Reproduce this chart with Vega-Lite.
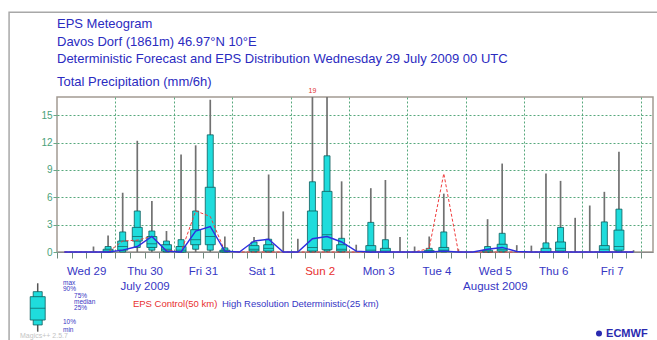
{
  "$schema": "https://vega.github.io/schema/vega-lite/v6.json",
  "width": 596,
  "height": 155,
  "autosize": {"type": "none"},
  "padding": {"left": 57, "top": 97, "right": 4, "bottom": 88},
  "background": "white",
  "config": {"view": {"stroke": "#a39a92", "strokeWidth": 1.5}, "font": "Liberation Sans"},
  "title": {
    "text": ["EPS Meteogram", "Davos Dorf (1861m) 46.97°N 10°E", "Deterministic Forecast and EPS Distribution Wednesday 29 July 2009 00 UTC"],
    "subtitle": "Total Precipitation (mm/6h)",
    "anchor": "start",
    "frame": "group",
    "font": "Liberation Sans",
    "fontSize": 13,
    "fontWeight": "normal",
    "color": "#2b2bbf",
    "lineHeight": 17.5,
    "subtitleFont": "Liberation Sans",
    "subtitleFontSize": 13,
    "subtitleColor": "#2b2bbf",
    "subtitlePadding": 10,
    "offset": -78
  },
  "resolve": {"axis": {"x": "independent"}},
  "data": {"values": [
    {"h": 3, "min": 0, "p10": 0, "p25": 0, "med": 0, "p75": 0, "p90": 0, "max": 0, "ctrl": 0, "hres": 0},
    {"h": 9, "min": 0, "p10": 0, "p25": 0, "med": 0, "p75": 0, "p90": 0, "max": 0, "ctrl": 0, "hres": 0},
    {"h": 15, "min": 0, "p10": 0, "p25": 0, "med": 0, "p75": 0, "p90": 0, "max": 0.6, "ctrl": 0, "hres": 0},
    {"h": 21, "min": 0, "p10": 0, "p25": 0, "med": 0.1, "p75": 0.3, "p90": 0.6, "max": 1.8, "ctrl": 0, "hres": 0},
    {"h": 27, "min": 0, "p10": 0, "p25": 0.2, "med": 0.6, "p75": 1.2, "p90": 2.2, "max": 6.5, "ctrl": 1.2, "hres": 0.2},
    {"h": 33, "min": 0, "p10": 0.5, "p25": 1.2, "med": 1.7, "p75": 2.7, "p90": 4.5, "max": 12.2, "ctrl": 1.3, "hres": 0.6},
    {"h": 39, "min": 0, "p10": 0.2, "p25": 0.5, "med": 0.9, "p75": 1.7, "p90": 2.3, "max": 5.6, "ctrl": 1.7, "hres": 1.7},
    {"h": 45, "min": 0, "p10": 0, "p25": 0.1, "med": 0.3, "p75": 0.8, "p90": 1.2, "max": 2.3, "ctrl": 0.2, "hres": 0.1},
    {"h": 51, "min": 0, "p10": 0, "p25": 0, "med": 0.2, "p75": 0.6, "p90": 1.35, "max": 10.7, "ctrl": 0, "hres": 0},
    {"h": 57, "min": 0, "p10": 0.3, "p25": 0.8, "med": 1.35, "p75": 2.45, "p90": 4.5, "max": 11.7, "ctrl": 4.5, "hres": 2.3},
    {"h": 63, "min": 0, "p10": 0.2, "p25": 0.8, "med": 1.7, "p75": 7.1, "p90": 12.85, "max": 16.7, "ctrl": 3.9, "hres": 2.8},
    {"h": 69, "min": 0, "p10": 0, "p25": 0, "med": 0.1, "p75": 0.2, "p90": 0.45, "max": 1.7, "ctrl": 0.1, "hres": 0.1},
    {"h": 75, "min": 0, "p10": 0, "p25": 0, "med": 0, "p75": 0, "p90": 0, "max": 0, "ctrl": 0, "hres": 0},
    {"h": 81, "min": 0, "p10": 0, "p25": 0.1, "med": 0.3, "p75": 0.7, "p90": 1.1, "max": 1.65, "ctrl": 0, "hres": 1.2},
    {"h": 87, "min": 0, "p10": 0, "p25": 0.1, "med": 0.4, "p75": 0.8, "p90": 1.4, "max": 8.5, "ctrl": 0, "hres": 1.4},
    {"h": 93, "min": 0, "p10": 0, "p25": 0, "med": 0, "p75": 0, "p90": 0, "max": 4.45, "ctrl": 0, "hres": 0},
    {"h": 99, "min": 0, "p10": 0, "p25": 0, "med": 0, "p75": 0, "p90": 0, "max": 1.45, "ctrl": 0, "hres": 0},
    {"h": 105, "min": 0, "p10": 0, "p25": 0.1, "med": 0.5, "p75": 4.5, "p90": 7.7, "max": 19, "ctrl": 0, "hres": 1.45},
    {"h": 111, "min": 0, "p10": 0.1, "p25": 0.25, "med": 1.9, "p75": 6.65, "p90": 10.55, "max": 17, "ctrl": 0, "hres": 1.7},
    {"h": 117, "min": 0, "p10": 0, "p25": 0.1, "med": 0.3, "p75": 0.8, "p90": 1.5, "max": 7.75, "ctrl": 0, "hres": 1.1},
    {"h": 123, "min": 0, "p10": 0, "p25": 0, "med": 0, "p75": 0, "p90": 0, "max": 0.8, "ctrl": 0, "hres": 0.1},
    {"h": 129, "min": 0, "p10": 0, "p25": 0, "med": 0.2, "p75": 0.7, "p90": 3.25, "max": 7.0, "ctrl": 0, "hres": 0},
    {"h": 135, "min": 0, "p10": 0, "p25": 0, "med": 0.1, "p75": 0.4, "p90": 1.35, "max": 7.9, "ctrl": 0, "hres": 0},
    {"h": 141, "min": 0, "p10": 0, "p25": 0, "med": 0, "p75": 0, "p90": 0, "max": 1.65, "ctrl": 0, "hres": 0},
    {"h": 147, "min": 0, "p10": 0, "p25": 0, "med": 0, "p75": 0, "p90": 0, "max": 0.6, "ctrl": 0, "hres": 0},
    {"h": 153, "min": 0, "p10": 0, "p25": 0, "med": 0, "p75": 0.15, "p90": 0.4, "max": 1.7, "ctrl": 0.4, "hres": 0},
    {"h": 159, "min": 0, "p10": 0, "p25": 0.1, "med": 0.2, "p75": 0.5, "p90": 2.2, "max": 6.4, "ctrl": 8.6, "hres": 0.1},
    {"h": 165, "min": 0, "p10": 0, "p25": 0, "med": 0, "p75": 0, "p90": 0, "max": 0.3, "ctrl": 0, "hres": 0},
    {"h": 171, "min": 0, "p10": 0, "p25": 0, "med": 0, "p75": 0, "p90": 0, "max": 0, "ctrl": 0, "hres": 0},
    {"h": 177, "min": 0, "p10": 0, "p25": 0, "med": 0, "p75": 0.2, "p90": 0.6, "max": 3.6, "ctrl": 0, "hres": 0.3},
    {"h": 183, "min": 0, "p10": 0, "p25": 0.1, "med": 0.3, "p75": 0.85, "p90": 2.05, "max": 9.7, "ctrl": 0, "hres": 0.5},
    {"h": 189, "min": 0, "p10": 0, "p25": 0, "med": 0, "p75": 0, "p90": 0, "max": 0.75, "ctrl": 0, "hres": 0.05},
    {"h": 195, "min": 0, "p10": 0, "p25": 0, "med": 0, "p75": 0, "p90": 0, "max": 0.7, "ctrl": 0, "hres": 0},
    {"h": 201, "min": 0, "p10": 0, "p25": 0, "med": 0, "p75": 0.4, "p90": 1.0, "max": 8.6, "ctrl": 0, "hres": 0},
    {"h": 207, "min": 0, "p10": 0, "p25": 0.1, "med": 0.4, "p75": 1.1, "p90": 2.7, "max": 7.8, "ctrl": 0.05, "hres": 0},
    {"h": 213, "min": 0, "p10": 0, "p25": 0, "med": 0, "p75": 0, "p90": 0, "max": 3.75, "ctrl": 0, "hres": 0},
    {"h": 219, "min": 0, "p10": 0, "p25": 0, "med": 0, "p75": 0, "p90": 0, "max": 5.1, "ctrl": 0, "hres": 0},
    {"h": 225, "min": 0, "p10": 0, "p25": 0, "med": 0.3, "p75": 0.7, "p90": 3.3, "max": 6.6, "ctrl": 0, "hres": 0},
    {"h": 231, "min": 0, "p10": 0, "p25": 0.2, "med": 0.6, "p75": 2.4, "p90": 4.7, "max": 11.0, "ctrl": 0, "hres": 0},
    {"h": 237, "min": 0, "p10": 0, "p25": 0, "med": 0, "p75": 0, "p90": 0, "max": 0.2, "ctrl": 0, "hres": 0}
  ]},
  "layer": [
    {
      "transform": [{"filter": "datum.max > 0"}],
      "mark": {"type": "rule", "color": "#717171", "strokeWidth": 1.7, "clip": true},
      "encoding": {
        "x": {"field": "h", "type": "quantitative", "scale": {"domain": [0, 245], "nice": false, "zero": false, "padding": 0},
          "axis": {
            "orient": "bottom",
            "values": [0, 6, 12, 18, 24, 30, 36, 42, 48, 54, 60, 66, 72, 78, 84, 90, 96, 102, 108, 114, 120, 126, 132, 138, 144, 150, 156, 162, 168, 174, 180, 186, 192, 198, 204, 210, 216, 222, 228, 234, 240],
            "tickCount": 80,
            "title": null,
            "grid": false,
            "ticks": true,
            "tickSize": 6,
            "tickColor": "#6f8a7c",
            "domain": true,
            "domainColor": "#8a8a8a",
            "labelExpr": "datum.value == 36 ? ['Thu 30', 'July 2009'] : datum.value == 180 ? ['Wed 5', 'August 2009'] : (datum.value % 24 == 12 ? ['Wed 29','Thu 30','Fri 31','Sat 1','Sun 2','Mon 3','Tue 4','Wed 5','Thu 6','Fri 7'][floor(datum.value / 24)] : '')",
            "labelColor": {"condition": {"test": "datum.value == 108", "value": "#e83030"}, "value": "#3636c4"},
            "labelFont": "Liberation Sans",
            "labelFontSize": 11.5,
            "labelPadding": 7,
            "labelLineHeight": 15.5,
            "labelOverlap": false,
            "labelFlush": false,
            "labelBound": false
          }
        },
        "y": {"field": "min", "type": "quantitative", "scale": {"domain": [0, 17], "nice": false, "zero": true, "padding": 0},
          "axis": {
            "values": [0, 3, 6, 9, 12, 15],
            "tickCount": 20,
            "title": null,
            "grid": true,
            "gridColor": "#56a87c",
            "gridDash": [2, 2],
            "tickSize": 4,
            "tickColor": "#6aa888",
            "labelColor": "#4aa27a",
            "labelFont": "Liberation Sans",
            "labelFontSize": 10,
            "labelPadding": 1,
            "labelOverlap": false,
            "domain": false
          }
        },
        "y2": {"field": "max"}
      }
    },
    {
      "transform": [{"filter": "datum.p90 > 0"}],
      "mark": {"type": "bar", "width": 6, "fill": "#1fdcdc", "stroke": "#0e5d5d", "strokeWidth": 0.8},
      "encoding": {
        "x": {"field": "h", "type": "quantitative",
          "axis": {
            "orient": "bottom",
            "values": [24, 48, 72, 96, 120, 144, 168, 192, 216, 240],
            "tickCount": 30,
            "title": null,
            "grid": true,
            "gridColor": "#56a87c",
            "gridDash": [2, 2],
            "labels": false,
            "ticks": false,
            "domain": false
          }
        },
        "y": {"field": "p10", "type": "quantitative"},
        "y2": {"field": "p90"}
      }
    },
    {
      "transform": [{"filter": "datum.p75 > 0"}],
      "mark": {"type": "bar", "width": 10, "fill": "#1fdcdc", "stroke": "#0e5d5d", "strokeWidth": 0.8},
      "encoding": {
        "x": {"field": "h", "type": "quantitative", "axis": null},
        "y": {"field": "p25", "type": "quantitative"},
        "y2": {"field": "p75"}
      }
    },
    {
      "transform": [{"filter": "datum.p75 > 0"}],
      "mark": {"type": "tick", "orient": "horizontal", "size": 10, "thickness": 1, "color": "#0e5d5d"},
      "encoding": {
        "x": {"field": "h", "type": "quantitative", "axis": null},
        "y": {"field": "med", "type": "quantitative"}
      }
    },
    {
      "mark": {"type": "line", "color": "#f03c3c", "strokeDash": [3, 2], "strokeWidth": 1},
      "encoding": {
        "x": {"field": "h", "type": "quantitative", "axis": null},
        "y": {"field": "ctrl", "type": "quantitative"}
      }
    },
    {
      "mark": {"type": "line", "color": "#2e2ee0", "strokeWidth": 1.4},
      "encoding": {
        "x": {"field": "h", "type": "quantitative", "axis": null},
        "y": {"field": "hres", "type": "quantitative"}
      }
    },
    {
      "transform": [{"filter": "datum.max > 17"}],
      "mark": {"type": "text", "color": "#e03030", "fontSize": 7, "dy": -6},
      "encoding": {
        "x": {"field": "h", "type": "quantitative", "axis": null},
        "y": {"datum": 17, "type": "quantitative"},
        "text": {"field": "max"}
      }
    },
    {
      "data": {"values": [{}]},
      "mark": {"type": "rect", "fill": null, "fillOpacity": 0, "stroke": "#a8a8a8", "strokeWidth": 1.5},
      "encoding": {
        "x": {"datum": -19.7, "type": "quantitative", "axis": null},
        "x2": {"datum": 270},
        "y": {"datum": 26.3, "type": "quantitative"},
        "y2": {"datum": -12}
      }
    },
    {
      "data": {"values": [{}]},
      "mark": {"type": "rule", "color": "#555555", "strokeWidth": 1.5},
      "encoding": {
        "x": {"datum": -7.93, "type": "quantitative", "axis": null},
        "y": {"datum": -3.43, "type": "quantitative"},
        "y2": {"datum": -8.74}
      }
    },
    {
      "data": {"values": [{}]},
      "mark": {"type": "bar", "width": 9, "fill": "#1fdcdc", "stroke": "#0e5d5d", "strokeWidth": 0.8},
      "encoding": {
        "x": {"datum": -7.93, "type": "quantitative", "axis": null},
        "y": {"datum": -4.35, "type": "quantitative"},
        "y2": {"datum": -8.0}
      }
    },
    {
      "data": {"values": [{}]},
      "mark": {"type": "bar", "width": 15, "fill": "#1fdcdc", "stroke": "#0e5d5d", "strokeWidth": 0.8},
      "encoding": {
        "x": {"datum": -7.93, "type": "quantitative", "axis": null},
        "y": {"datum": -4.9, "type": "quantitative"},
        "y2": {"datum": -7.46}
      }
    },
    {
      "data": {"values": [{}]},
      "mark": {"type": "tick", "orient": "horizontal", "size": 15, "thickness": 1, "color": "#0e5d5d"},
      "encoding": {
        "x": {"datum": -7.93, "type": "quantitative", "axis": null},
        "y": {"datum": -6.17, "type": "quantitative"}
      }
    },
    {
      "data": {"values": [{}]},
      "mark": {"type": "text", "text": ["max", "90%"], "color": "#3636c4", "fontSize": 6.5, "lineHeight": 5.5, "align": "left", "baseline": "top"},
      "encoding": {
        "x": {"datum": 2.47, "type": "quantitative", "axis": null},
        "y": {"datum": -3.1, "type": "quantitative"}
      }
    },
    {
      "data": {"values": [{}]},
      "mark": {"type": "text", "text": ["75%", "median", "25%"], "color": "#3636c4", "fontSize": 6.5, "lineHeight": 6, "align": "left", "baseline": "top"},
      "encoding": {
        "x": {"datum": 7.0, "type": "quantitative", "axis": null},
        "y": {"datum": -4.45, "type": "quantitative"}
      }
    },
    {
      "data": {"values": [{}]},
      "mark": {"type": "text", "text": ["10%", "min"], "color": "#3636c4", "fontSize": 6.5, "lineHeight": 7.5, "align": "left", "baseline": "top"},
      "encoding": {
        "x": {"datum": 2.47, "type": "quantitative", "axis": null},
        "y": {"datum": -7.35, "type": "quantitative"}
      }
    },
    {
      "data": {"values": [{}]},
      "mark": {"type": "text", "text": "Magics++ 2.5.7", "color": "#c4c4c4", "fontSize": 7, "align": "left", "baseline": "middle"},
      "encoding": {
        "x": {"datum": -15.2, "type": "quantitative", "axis": null},
        "y": {"datum": -9.2, "type": "quantitative"}
      }
    },
    {
      "data": {"values": [{}]},
      "mark": {"type": "text", "text": "EPS Control(50 km)", "color": "#e83030", "fontSize": 9.5, "align": "left", "baseline": "middle"},
      "encoding": {
        "x": {"datum": 31.2, "type": "quantitative", "axis": null},
        "y": {"datum": -5.65, "type": "quantitative"}
      }
    },
    {
      "data": {"values": [{}]},
      "mark": {"type": "text", "text": "High Resolution Deterministic(25 km)", "color": "#3636c4", "fontSize": 9.5, "align": "left", "baseline": "middle"},
      "encoding": {
        "x": {"datum": 67.8, "type": "quantitative", "axis": null},
        "y": {"datum": -5.65, "type": "quantitative"}
      }
    },
    {
      "data": {"values": [{}]},
      "mark": {"type": "text", "text": "ECMWF", "color": "#2a2ab0", "fontSize": 11, "fontWeight": "bold", "align": "left", "baseline": "middle"},
      "encoding": {
        "x": {"datum": 225.7, "type": "quantitative", "axis": null},
        "y": {"datum": -8.95, "type": "quantitative"}
      }
    },
    {
      "data": {"values": [{}]},
      "mark": {"type": "point", "filled": true, "color": "#2a2ab0", "size": 36, "opacity": 1},
      "encoding": {
        "x": {"datum": 222.8, "type": "quantitative", "axis": null},
        "y": {"datum": -8.95, "type": "quantitative"}
      }
    }
  ]
}
